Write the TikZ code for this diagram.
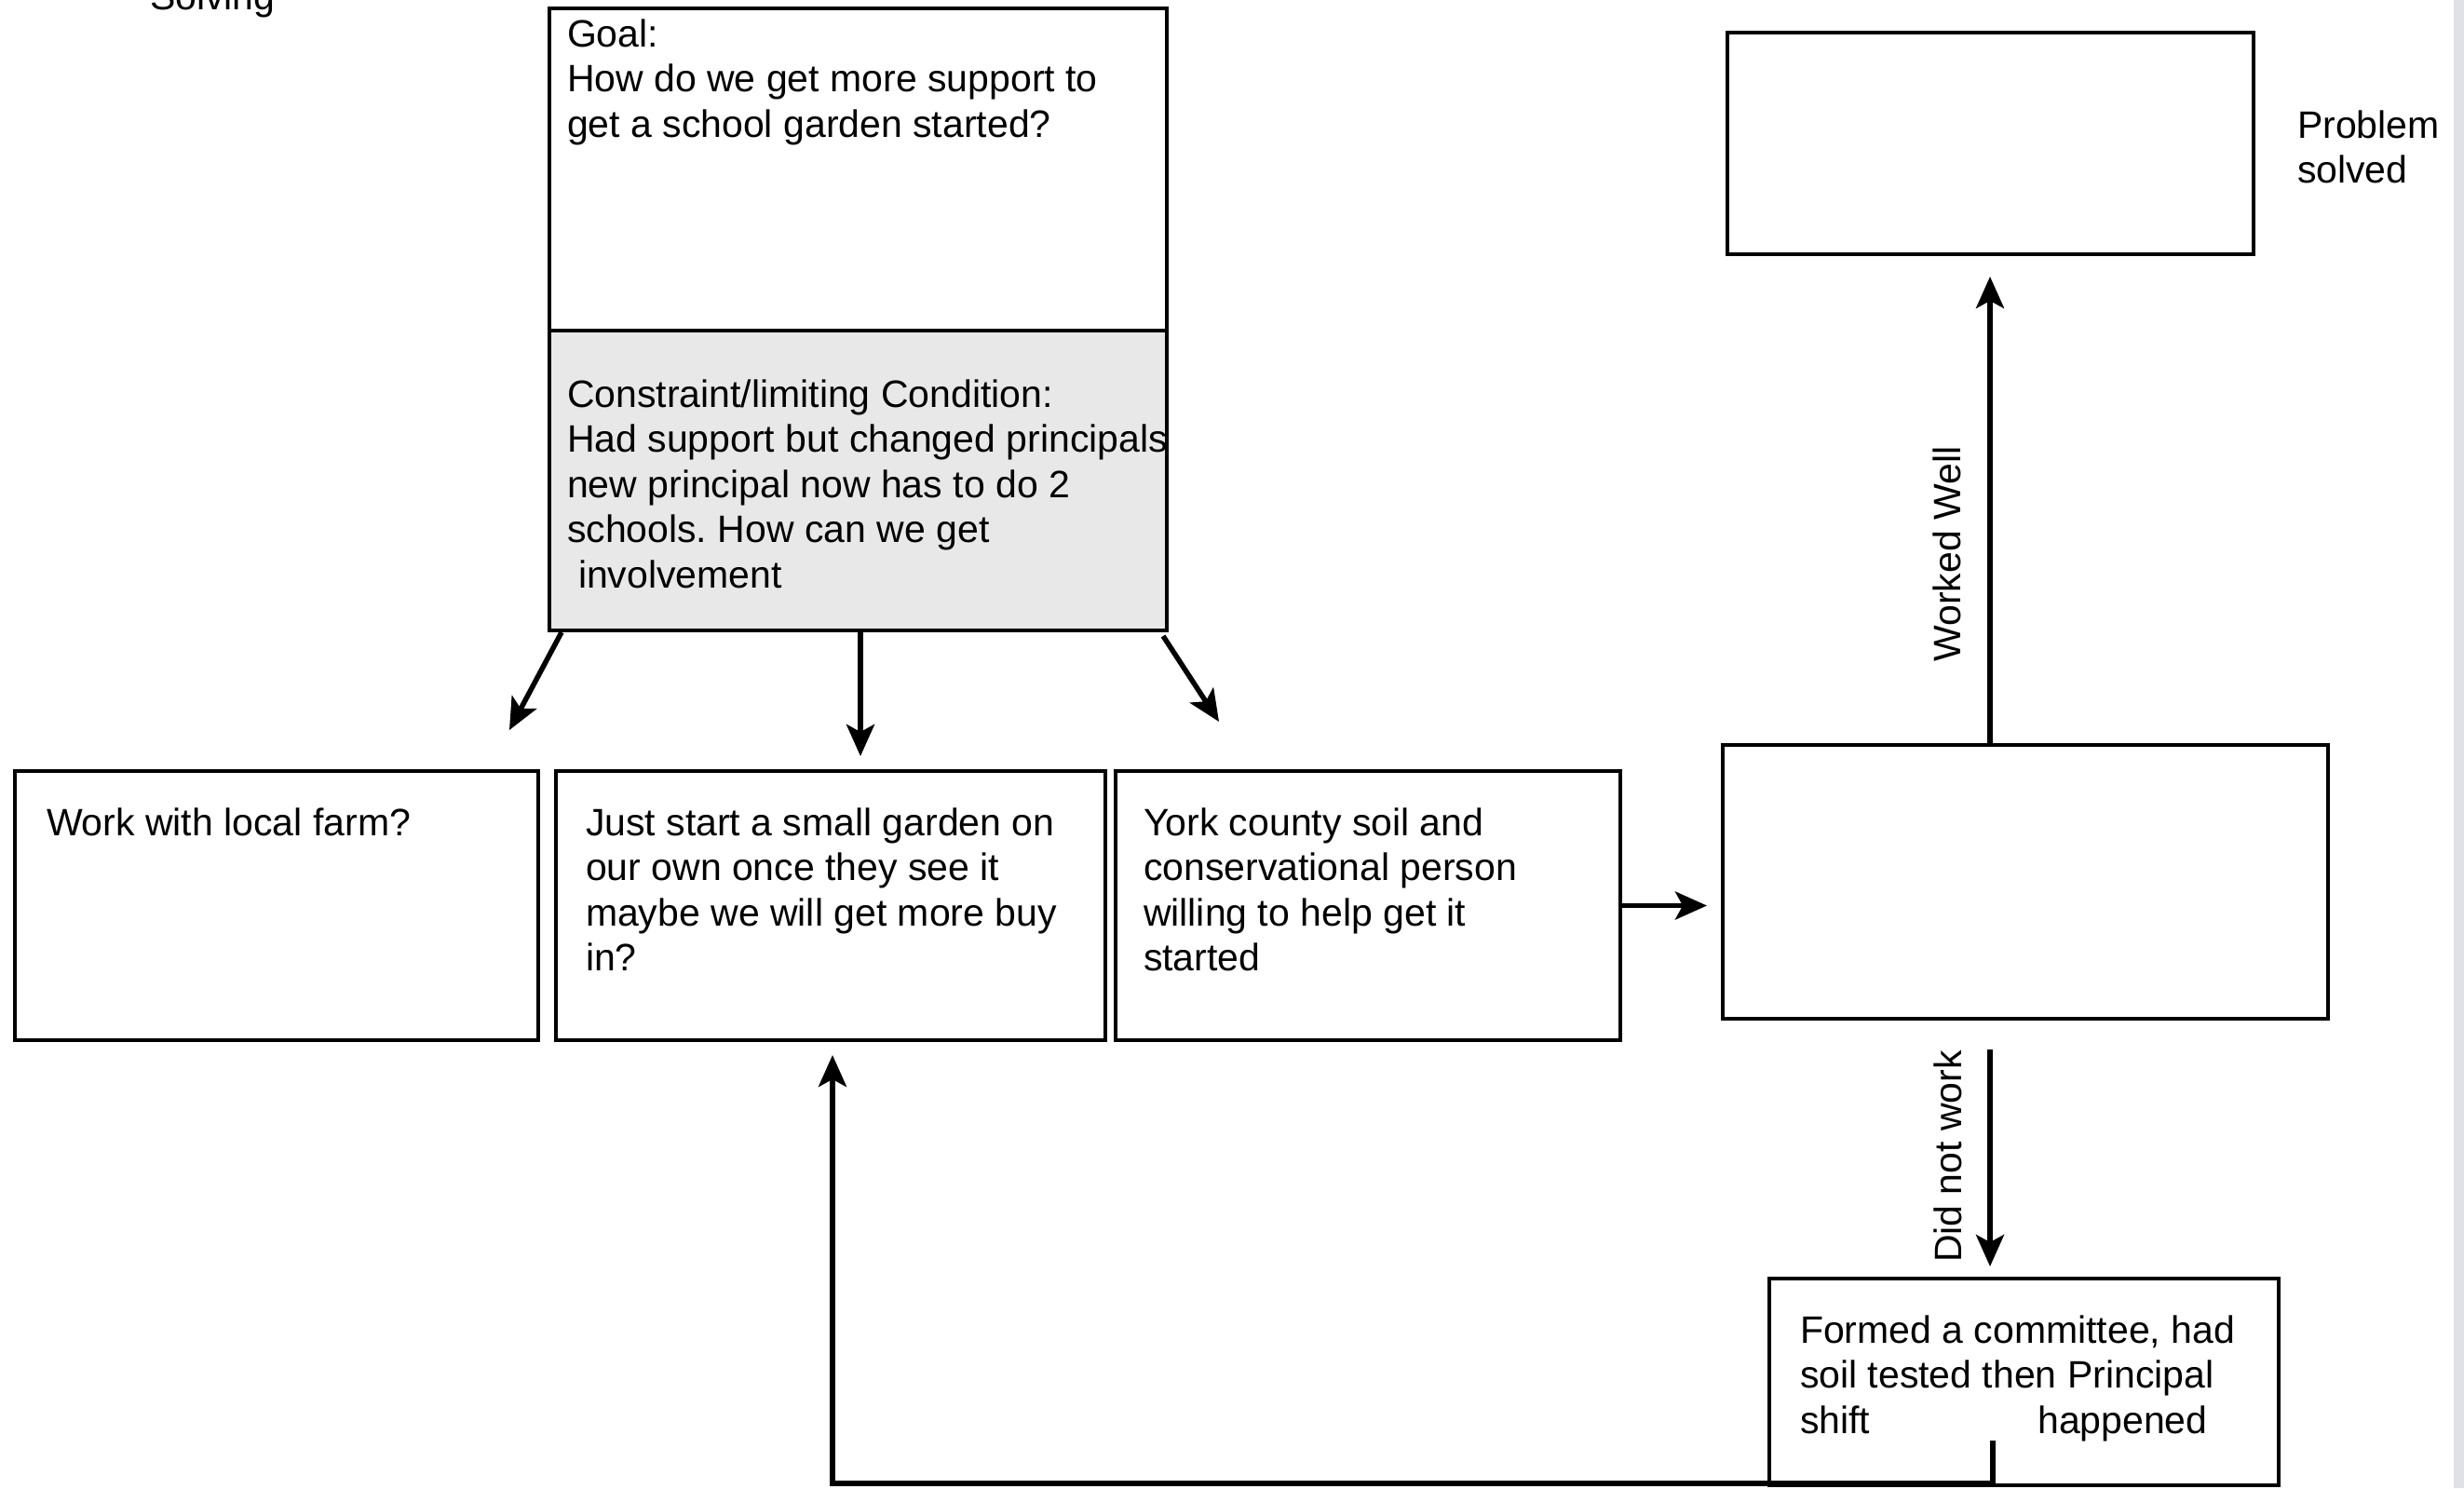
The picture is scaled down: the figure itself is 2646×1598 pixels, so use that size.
\documentclass[tikz,border=0pt]{standalone}
\usepackage{fontspec}
\setmainfont{Liberation Sans}
\usetikzlibrary{arrows.meta}
\newcommand\lnstrut{\rule{0pt}{31pt}}
\frenchspacing
\begin{document}
\begin{tikzpicture}[x=1pt,y=-1pt,
  box/.style={draw=black, line width=3.5pt, fill=white, inner sep=0pt, outer sep=0pt, anchor=north west},
  txt/.style={inner sep=0pt, outer sep=0pt, anchor=north west, align=left, text=black, font=\fontsize{41}{48.5}\selectfont},
  lbl/.style={inner sep=0pt, outer sep=0pt, text=black, font=\fontsize{41}{48.5}\selectfont},
  arr/.style={line width=5.5pt, line join=miter, -{Stealth[length=34pt,width=30pt,inset=8pt]}}]
\useasboundingbox (0,0) rectangle (2646,1598);
\fill[white] (0,0) rectangle (2646,1598);
\fill[color={rgb,255:red,222;green,225;blue,230}] (2635,0) rectangle (2646,1598);

% boxes
\node[box, minimum width=663pt, minimum height=346pt] (goal) at (590,9) {};
\node[box, fill={rgb,255:red,232;green,232;blue,232}, minimum width=663pt, minimum height=322pt] (cons) at (590,355) {};
\node[box, minimum width=565pt, minimum height=238pt] (solved) at (1855,35) {};
\node[box, minimum width=562pt, minimum height=289pt] (b1) at (16,828) {};
\node[box, minimum width=590pt, minimum height=289pt] (b2) at (597,828) {};
\node[box, minimum width=542pt, minimum height=289pt] (b3) at (1198,828) {};
\node[box, minimum width=650pt, minimum height=294pt] (mid) at (1850,800) {};
\node[box, minimum width=547pt, minimum height=222pt] (bot) at (1900,1373) {};

% texts
\node[lbl, anchor=base west] (solving) at (161,10) {Solving};
\node[txt] (goaltxt) at (609,19) {\lnstrut Goal:\\How do we get more support to\\get a school garden started?};
\node[txt] (constxt) at (609,406) {\lnstrut Constraint/limiting Condition:\\Had support but changed principals\\new principal now has to do 2\\schools. How can we get\\\hspace*{12pt}involvement};
\node[txt] (b1txt) at (50,866) {\lnstrut Work with local farm?};
\node[txt] (b2txt) at (629,866) {\lnstrut Just start a small garden on\\our own once they see it\\maybe we will get more buy\\in?};
\node[txt] (b3txt) at (1228,866) {\lnstrut York county soil and\\conservational person\\willing to help get it\\started};
\node[txt] (bottxt) at (1933,1411) {\lnstrut Formed a committee, had\\soil tested then Principal\\shift\hspace{180pt}happened};
\node[txt] (solvedtxt) at (2467,117) {\lnstrut Problem\\solved};
\node[lbl, rotate=90, anchor=base] (ww) at (2105,595) {Worked Well};
\node[lbl, rotate=90, anchor=base] (dnw) at (2106,1242) {Did not work};

% helper coordinates
\coordinate (ax) at (2137,0);
\coordinate (mx) at (924,0);
\coordinate (ltip) at (547,784);
\coordinate (rtip) at (1309,775);
\coordinate (fb) at (2140,1547);
\coordinate (fbc) at (894,1593);

% connectors
\draw[arr] ([xshift=13pt,yshift=-2pt]cons.south west) -- (ltip);
\draw[arr, shorten >=16pt] (cons.south -| mx) -- (b2.north -| mx);
\draw[arr] ([xshift=-4pt,yshift=-6pt]cons.south east) -- (rtip);
\draw[arr, shorten >=17pt] (b3.east) -- (mid.west |- b3.east);
\draw[arr, shorten >=24pt] (mid.north -| ax) -- (solved.south -| ax);
\draw[arr, shorten <=33pt, shorten >=13pt] (mid.south -| ax) -- (bot.north -| ax);
\draw[arr, shorten >=16pt] (fb) |- (fbc) -- (b2.south -| fbc);
\end{tikzpicture}
\end{document}
